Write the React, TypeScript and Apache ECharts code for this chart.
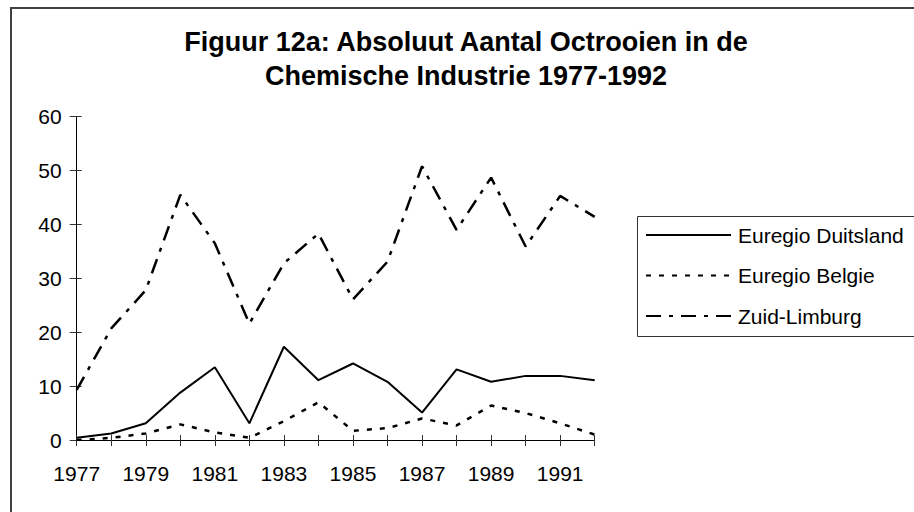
import React, { useEffect, useRef } from "react";
import * as echarts from "echarts";

const years = ["1977","1978","1979","1980","1981","1982","1983","1984","1985","1986","1987","1988","1989","1990","1991","1992"];
const duitsland = [0.4, 1.2, 3.1, 8.8, 13.5, 3.1, 17.3, 11.1, 14.2, 10.8, 5.1, 13.1, 10.8, 11.9, 11.9, 11.1];
const belgie = [0.0, 0.4, 1.2, 2.9, 1.4, 0.4, 3.5, 7.0, 1.7, 2.2, 4.0, 2.7, 6.4, 5.0, 3.1, 1.0];
const zuidLimburg = [9.3, 20.7, 27.8, 45.5, 36.5, 21.6, 32.8, 38.3, 26.1, 33.1, 50.8, 39.0, 48.7, 35.9, 45.3, 41.4];
const seriesNames = ["Euregio Duitsland", "Euregio Belgie", "Zuid-Limburg"];
const titleText = "Figuur 12a: Absoluut Aantal Octrooien in de\nChemische Industrie 1977-1992";

const FONT = "'Liberation Sans', Arial, sans-serif";

export default function App() {
  const ref = useRef<HTMLDivElement>(null);
  useEffect(() => {
    if (!ref.current) return;
    const chart = echarts.init(ref.current, undefined, { renderer: "svg" });
    const yCommon = { type: "value", min: 0, max: 60, interval: 10, splitLine: { show: false } };
    chart.setOption({
      animation: false,
      backgroundColor: "#ffffff",
      textStyle: { fontFamily: FONT, color: "#000" },
      title: {
        text: titleText,
        left: 466,
        top: 25,
        padding: 0,
        textAlign: "center",
        textStyle: { fontFamily: FONT, fontSize: 27, fontWeight: "bold", color: "#000", lineHeight: 34 },
      },
      grid: { left: 76.7, right: 319.3, top: 116.7, bottom: 72 },
      legend: {
        orient: "vertical",
        left: 645,
        top: 224.5,
        padding: 0,
        itemWidth: 85,
        itemHeight: 21,
        itemGap: 19.5,
        itemStyle: { opacity: 0 },
        textStyle: { fontFamily: FONT, fontSize: 21, color: "#000", lineHeight: 21, padding: [0, 0, 0, 2] },
        data: seriesNames,
      },
      xAxis: [
        {
          type: "category",
          data: years,
          boundaryGap: false,
          axisLine: { lineStyle: { color: "#000", width: 1 } },
          axisTick: { show: true, interval: 0, length: 6, inside: false, lineStyle: { color: "#333" } },
          axisLabel: { interval: 1, margin: 23, fontSize: 21, fontFamily: FONT, color: "#000" },
        },
        {
          type: "category",
          data: years,
          boundaryGap: false,
          position: "bottom",
          axisLine: { show: false },
          axisTick: { show: true, interval: 0, length: 5, inside: true, lineStyle: { color: "#333" } },
          axisLabel: { show: false },
        },
      ],
      yAxis: [
        {
          ...yCommon,
          axisLine: { show: true, lineStyle: { color: "#000", width: 1 } },
          axisTick: { show: true, length: 7, inside: false, lineStyle: { color: "#333" } },
          axisLabel: { margin: 15, fontSize: 21, fontFamily: FONT, color: "#000" },
        },
        {
          ...yCommon,
          position: "left",
          axisLine: { show: false },
          axisTick: { show: true, length: 5, inside: true, lineStyle: { color: "#333" } },
          axisLabel: { show: false },
        },
      ],
      series: [
        {
          name: seriesNames[0],
          type: "line",
          data: duitsland,
          symbol: "none",
          lineStyle: { color: "#000", width: 2, type: "solid" },
          itemStyle: { color: "#000" },
        },
        {
          name: seriesNames[1],
          type: "line",
          data: belgie,
          symbol: "none",
          lineStyle: { color: "#000", width: 2.5, type: [5, 8] },
          itemStyle: { color: "#000" },
        },
        {
          name: seriesNames[2],
          type: "line",
          data: zuidLimburg,
          symbol: "none",
          lineStyle: { color: "#000", width: 2.5, type: [15, 8, 4, 8] },
          itemStyle: { color: "#000" },
        },
      ],
      graphic: [
        {
          type: "rect",
          shape: { x: 11, y: 8, width: 1000, height: 1000 },
          style: { fill: "none", stroke: "#404040", lineWidth: 2 },
          silent: true,
        },
        {
          type: "rect",
          shape: { x: 637.5, y: 216.5, width: 400, height: 120 },
          style: { fill: "none", stroke: "#333", lineWidth: 1 },
          silent: true,
        },
      ],
    });
    return () => chart.dispose();
  }, []);
  return <div ref={ref} style={{ position: "fixed", left: 0, top: 0, width: 914, height: 512 }} />;
}
